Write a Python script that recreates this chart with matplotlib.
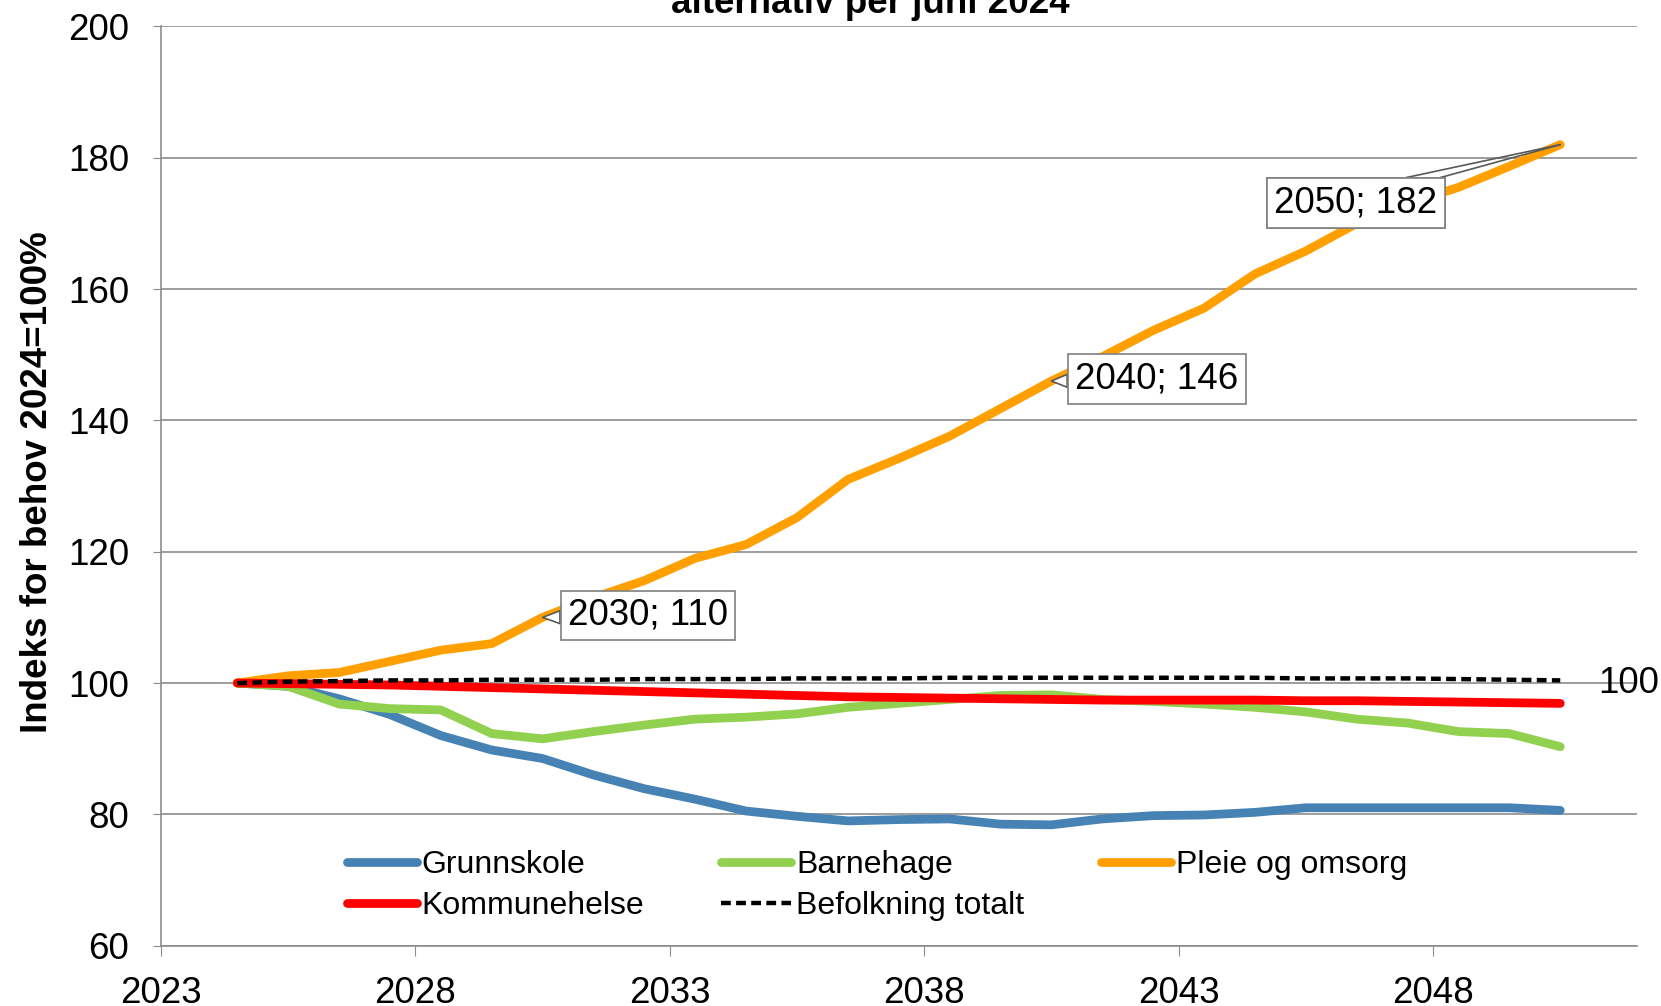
import numpy as np
import matplotlib
matplotlib.use('Agg')
import matplotlib.pyplot as plt

plt.rcParams['font.family'] = ['Liberation Sans', 'DejaVu Sans']

# --- Data (index, 2024 = 100) ---
years = np.arange(2024, 2051)

grunnskole = [100, 99.5, 97.6, 95.2, 92.0, 89.8, 88.5, 86.0, 83.9, 82.3,
              80.5, 79.7, 79.0, 79.2, 79.3, 78.5, 78.4, 79.3, 79.8, 79.9,
              80.3, 81.0, 81.0, 81.0, 81.0, 81.0, 80.6]
barnehage = [100, 99.5, 96.8, 96.1, 95.9, 92.3, 91.5, 92.6, 93.6, 94.5,
             94.8, 95.3, 96.3, 96.9, 97.5, 98.1, 98.2, 97.5, 97.2, 96.8,
             96.3, 95.6, 94.5, 93.9, 92.6, 92.3, 90.3]
pleie = [100, 101.1, 101.6, 103.3, 105.0, 106.0, 110.0, 113.0, 115.6, 119.0,
         121.1, 125.2, 131.0, 134.2, 137.6, 141.8, 146.0, 149.7, 153.7, 157.1,
         162.3, 165.8, 170.0, 173.0, 175.5, 178.7, 182.0]
kommunehelse = [100, 99.9, 99.8, 99.7, 99.5, 99.3, 99.1, 98.9, 98.7, 98.5,
                98.3, 98.1, 97.9, 97.8, 97.7, 97.6, 97.5, 97.4, 97.4, 97.4,
                97.4, 97.3, 97.3, 97.2, 97.1, 97.0, 96.9]
befolkning = [100, 100.2, 100.3, 100.4, 100.4, 100.5, 100.5, 100.5, 100.6, 100.6,
              100.6, 100.7, 100.7, 100.7, 100.8, 100.8, 100.8, 100.8, 100.8, 100.8,
              100.8, 100.7, 100.7, 100.7, 100.6, 100.5, 100.4]

callout_years = [2030, 2040, 2050]
callout_text = ['2030; 110', '2040; 146', '2050; 182']

# points sit in the middle of each year on the date axis
x = years + 0.5

fig = plt.figure(figsize=(16.61, 10.06), dpi=100)
ax = fig.add_axes([0.0969, 0.06, 0.8884, 0.9137])

lw = 6.3
ax.plot(x, grunnskole, color='#4682B4', lw=lw, solid_capstyle='round', label='Grunnskole', zorder=3)
ax.plot(x, barnehage, color='#92D050', lw=lw, solid_capstyle='round', label='Barnehage', zorder=3)
ax.plot(x, pleie, color='#FFA000', lw=lw, solid_capstyle='round', label='Pleie og omsorg', zorder=3)
ax.plot(x, kommunehelse, color='#FF0000', lw=lw, solid_capstyle='round', label='Kommunehelse', zorder=4)
ax.plot(x, befolkning, color='black', lw=3.2, ls=(0, (2.2, 1.2)), label='Befolkning totalt', zorder=5)

# axes look
ax.set_xlim(2023, 2052)
ax.set_ylim(60, 200)
ax.set_yticks(np.arange(60, 201, 20))
ax.set_xticks(np.arange(2023, 2049, 5))
ax.grid(axis='y', color='#8c8c8c', lw=1.2)
ax.set_axisbelow(True)
for s in ['top', 'right']:
    ax.spines[s].set_visible(False)
for s in ['left', 'bottom']:
    ax.spines[s].set_color('#8c8c8c')
    ax.spines[s].set_linewidth(1.2)
ax.tick_params(axis='y', labelsize=26.5, length=6, color='#8c8c8c', pad=17)
ax.tick_params(axis='x', labelsize=26.5, length=7, color='#8c8c8c', pad=15)

fig.text(0.0223, 0.521, 'Indeks for behov 2024=100%', rotation=90,
         ha='center', va='center', fontsize=26.5, fontweight='bold')

# title is cropped at the top edge in the original
fig.text(0.524, 0.987, 'alternativ per juni 2024', ha='center', va='baseline',
         fontsize=26.5, fontweight='bold')

# data label callouts on Pleie og omsorg
box_pos = [(2032.57, 110.3), (2042.57, 146.3), (2046.48, 173.1)]
for yr, txt, bp in zip(callout_years, callout_text, box_pos):
    i = list(years).index(yr)
    bbox = dict(boxstyle='square,pad=0.2', fc='white', ec='#7f7f7f', lw=1.2)
    if yr == 2050:
        # two leader lines from the top edge of the box to the point
        for rx in (0.58, 0.84):
            ax.annotate(txt, xy=(x[i], pleie[i]), xytext=bp, ha='center', va='center',
                        fontsize=26.5, zorder=6, bbox=bbox,
                        arrowprops=dict(arrowstyle='-', color='#595959', lw=1.2,
                                        shrinkA=0, shrinkB=0, relpos=(rx, 1.0)))
    else:
        ax.annotate(txt, xy=(x[i], pleie[i]), xytext=bp, ha='center', va='center',
                    fontsize=26.5, zorder=6, bbox=bbox,
                    arrowprops=dict(arrowstyle='wedge,tail_width=0.35,shrink_factor=0.5',
                                    fc='white', ec='#595959', lw=1.2,
                                    shrinkA=0, shrinkB=0, relpos=(0.0, 0.45)))

# end label for Befolkning totalt
ax.annotate('100', xy=(x[-1], befolkning[-1]), xytext=(27, -2), textcoords='offset points',
            ha='left', va='center', fontsize=26.5, annotation_clip=False)

# legend, 3 columns
h, l = ax.get_legend_handles_labels()
order = [0, 3, 1, 4, 2]
leg = ax.legend([h[k] for k in order], [l[k] for k in order], ncol=3,
                loc='center', bbox_to_anchor=(0.528, 0.12), bbox_transform=fig.transFigure,
                frameon=False, fontsize=23, handlelength=2.2, handletextpad=0.15,
                columnspacing=2.4, labelspacing=0.35, borderpad=0)

fig.savefig('out.png', dpi=100)
